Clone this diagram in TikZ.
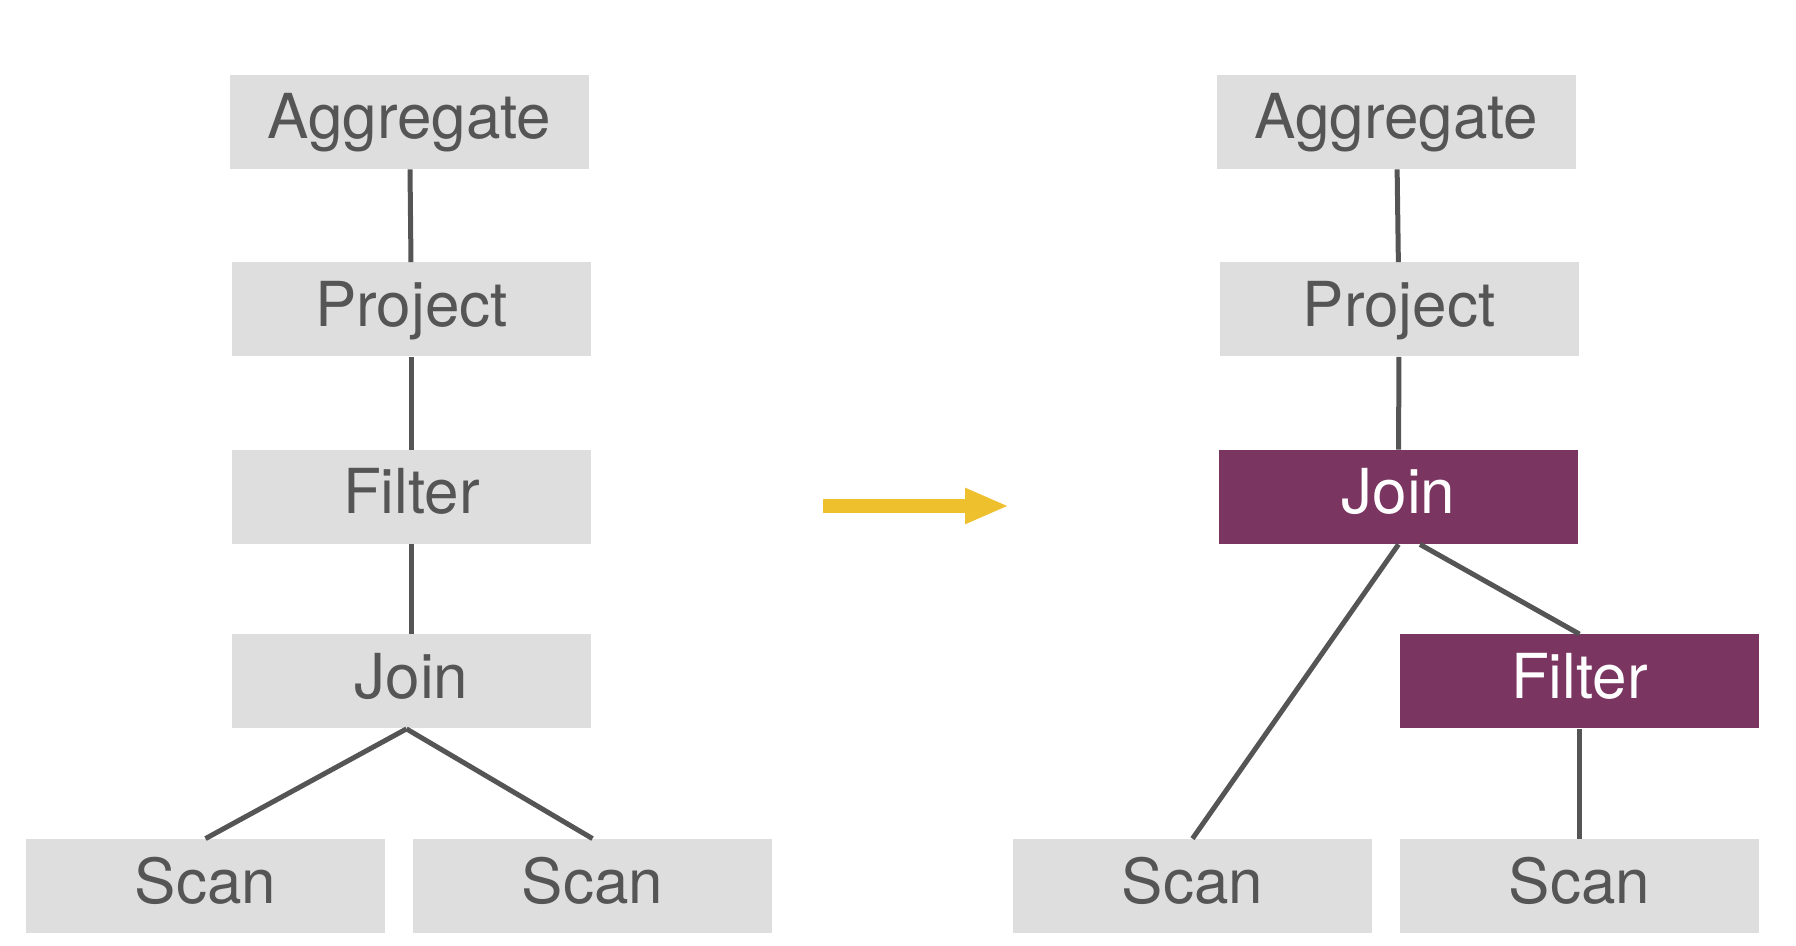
\documentclass[tikz,border=0pt]{standalone}
\usepackage{fontspec}
\setmainfont{TeX Gyre Heros}
\usetikzlibrary{arrows.meta}
\definecolor{boxgray}{HTML}{DEDEDE}
\definecolor{textgray}{HTML}{555555}
\definecolor{plum}{HTML}{7A3560}
\definecolor{arrowyellow}{HTML}{EFC02E}

\begin{document}
\begin{tikzpicture}[x=0.5pt, y=-0.5pt,
    op/.style={fill=boxgray, text=textgray, minimum width=179.5pt, minimum height=47pt,
        inner sep=0pt, anchor=center, text height=22pt, text depth=5pt,
        font=\fontsize{31}{31}\selectfont},
    moved/.style={op, fill=plum, text=white},
    edge/.style={draw=textgray, line width=2.5pt}]
    \useasboundingbox (0,0) rectangle (1796,946);

    % plan before
    \node[op] (agg) at (409.5,122) {Aggregate};
    \node[op] (proj) at (411.5,309.5) {Project};
    \node[op] (filt) at (411.5,497) {Filter};
    \node[op] (join) at (411.5,681.5) {Join};
    \node[op] (scanl) at (205.5,886) {Scan};
    \node[op] (scanr) at (592.5,886) {Scan};

    \draw[edge] (agg) -- (proj);
    \draw[edge] (proj) -- (filt);
    \draw[edge] (filt) -- (join);
    \draw[edge] ([xshift=-2.5pt]join.south) -- (scanl.north);
    \draw[edge] ([xshift=-2.5pt]join.south) -- (scanr.north);

    % arrow
    \coordinate (from) at (823,506);
    \coordinate (to) at (1009,506);
    \draw[draw=arrowyellow, line width=7pt, -{Triangle[length=22pt, width=16.5pt]}] (from) -- (to);

    % plan after
    \node[op] (agg2) at (1396.5,122) {Aggregate};
    \node[op] (proj2) at (1399,309.5) {Project};
    \node[moved] (join2) at (1398.5,497) {Join};
    \node[moved] (filt2) at (1579.5,681.5) {Filter};
    \node[op] (scanl2) at (1192.5,886) {Scan};
    \node[op] (scanr2) at (1579.5,886) {Scan};

    \draw[edge] (agg2) -- (proj2);
    \draw[edge] (proj2) -- (join2);
    \draw[edge] (join2.south) -- (scanl2.north);
    \draw[edge] ([xshift=10.75pt]join2.south) -- (filt2.north);
    \draw[edge] (filt2) -- (scanr2);
\end{tikzpicture}
\end{document}
